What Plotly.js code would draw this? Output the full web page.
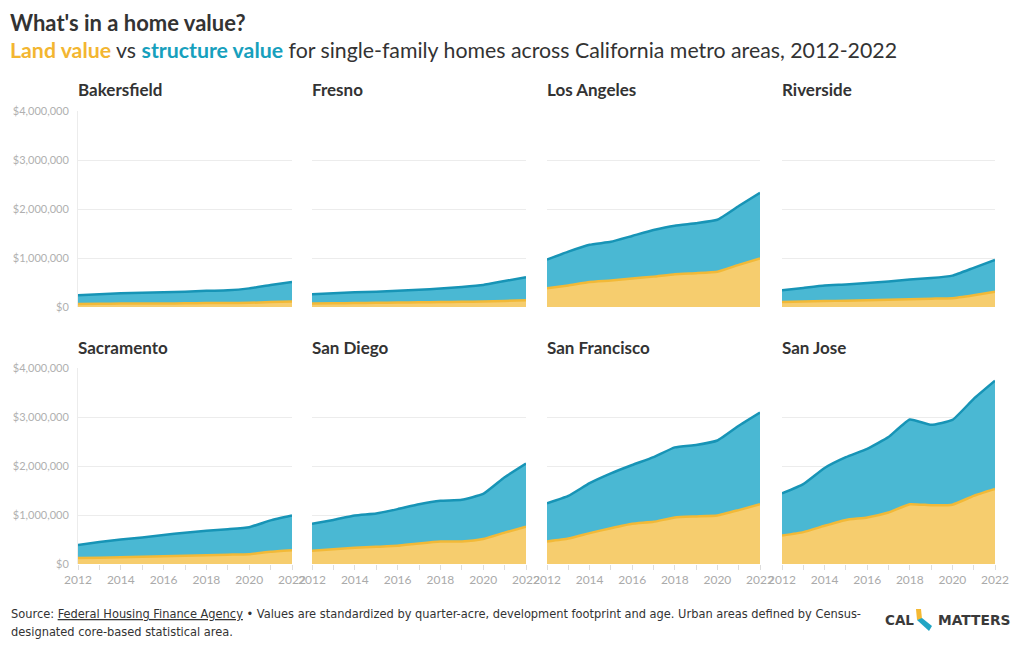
<!DOCTYPE html>
<html>
<head>
<meta charset="utf-8">
<script src="https://cdn.plot.ly/plotly-3.0.1.min.js"></script>
<style>
  html, body { margin: 0; padding: 0; background: #fff; }
  #chart { width: 1020px; height: 650px; }
</style>
</head>
<body>
<div id="chart"></div>
<script>
// ---------- DATA ----------
const years = [2012, 2013, 2014, 2015, 2016, 2017, 2018, 2019, 2020, 2021, 2022];
const metros = ["Bakersfield", "Fresno", "Los Angeles", "Riverside", "Sacramento", "San Diego", "San Francisco", "San Jose"];

// land value (USD millions) and total home value = land + structure (USD millions)
const bakersfieldLand  = [0.06, 0.065, 0.07, 0.07, 0.07, 0.075, 0.08, 0.08, 0.085, 0.10, 0.11];
const bakersfieldTotal = [0.24, 0.26, 0.28, 0.29, 0.30, 0.31, 0.33, 0.34, 0.38, 0.45, 0.51];
const fresnoLand       = [0.07, 0.075, 0.08, 0.085, 0.09, 0.095, 0.10, 0.105, 0.11, 0.125, 0.14];
const fresnoTotal      = [0.26, 0.28, 0.30, 0.31, 0.33, 0.35, 0.38, 0.41, 0.45, 0.53, 0.61];
const losAngelesLand   = [0.38, 0.44, 0.51, 0.54, 0.58, 0.62, 0.67, 0.69, 0.72, 0.86, 0.99];
const losAngelesTotal  = [0.97, 1.13, 1.27, 1.33, 1.45, 1.57, 1.66, 1.71, 1.78, 2.06, 2.33];
const riversideLand    = [0.10, 0.11, 0.12, 0.13, 0.14, 0.15, 0.16, 0.17, 0.18, 0.24, 0.31];
const riversideTotal   = [0.34, 0.39, 0.44, 0.46, 0.49, 0.52, 0.56, 0.59, 0.64, 0.80, 0.96];
const sacramentoLand   = [0.12, 0.13, 0.14, 0.15, 0.16, 0.17, 0.18, 0.19, 0.20, 0.25, 0.28];
const sacramentoTotal  = [0.39, 0.45, 0.50, 0.54, 0.59, 0.64, 0.68, 0.71, 0.75, 0.89, 0.99];
const sanDiegoLand     = [0.27, 0.30, 0.33, 0.35, 0.37, 0.42, 0.46, 0.46, 0.51, 0.64, 0.76];
const sanDiegoTotal    = [0.82, 0.90, 0.99, 1.03, 1.12, 1.22, 1.29, 1.31, 1.43, 1.77, 2.05];
const sanFranciscoLand = [0.46, 0.52, 0.63, 0.73, 0.82, 0.86, 0.95, 0.97, 0.99, 1.10, 1.22];
const sanFranciscoTotal= [1.24, 1.39, 1.65, 1.85, 2.02, 2.18, 2.38, 2.43, 2.52, 2.82, 3.09];
const sanJoseLand      = [0.58, 0.65, 0.78, 0.90, 0.95, 1.05, 1.22, 1.20, 1.21, 1.39, 1.53];
const sanJoseTotal     = [1.44, 1.63, 1.96, 2.18, 2.35, 2.59, 2.95, 2.84, 2.94, 3.37, 3.74];

const yTickVals = [0, 1000000, 2000000, 3000000, 4000000];
const yTickText = ["$0", "$1,000,000", "$2,000,000", "$3,000,000", "$4,000,000"];
const xTickVals = years;
const xTickText = ["2012", "", "2014", "", "2016", "", "2018", "", "2020", "", "2022"];

const landSeries  = [bakersfieldLand, fresnoLand, losAngelesLand, riversideLand, sacramentoLand, sanDiegoLand, sanFranciscoLand, sanJoseLand];
const totalSeries = [bakersfieldTotal, fresnoTotal, losAngelesTotal, riversideTotal, sacramentoTotal, sanDiegoTotal, sanFranciscoTotal, sanJoseTotal];

// ---------- STYLE ----------
const W = 1020, H = 650;
const colPx = [[78, 292], [312, 526], [547, 760], [782, 995]];
const rowPx = [[111, 307], [368, 564]];
const px = (x) => x / W;
const py = (y) => 1 - y / H;

const YEL_FILL = "#f6cd6e", YEL_LINE = "#f2b937";
const BLU_FILL = "#4ab8d3", BLU_LINE = "#1794b6";
const BASE_FONT = "Lato, 'Open Sans', sans-serif";

const toUSD = (arr) => arr.map(v => v * 1000000);

const data = [];
const layout = {
  width: W, height: H,
  margin: {l: 0, r: 0, t: 0, b: 0},
  paper_bgcolor: "#fff", plot_bgcolor: "rgba(0,0,0,0)",
  showlegend: false,
  font: {family: BASE_FONT, color: "#333"},
  annotations: [],
  shapes: []
};

metros.forEach((name, i) => {
  const col = i % 4, row = Math.floor(i / 4);
  const n = i + 1;
  const xa = "x" + (n === 1 ? "" : n), ya = "y" + (n === 1 ? "" : n);
  const xk = "xaxis" + (n === 1 ? "" : n), yk = "yaxis" + (n === 1 ? "" : n);

  data.push({
    type: "scatter", mode: "lines", x: years, y: toUSD(landSeries[i]),
    xaxis: xa, yaxis: ya, fill: "tozeroy", fillcolor: YEL_FILL,
    line: {color: YEL_LINE, width: 2.5, shape: "spline", smoothing: 0.4},
    hoverinfo: "skip", cliponaxis: true
  });
  data.push({
    type: "scatter", mode: "lines", x: years, y: toUSD(totalSeries[i]),
    xaxis: xa, yaxis: ya, fill: "tonexty", fillcolor: BLU_FILL,
    line: {color: BLU_LINE, width: 2.5, shape: "spline", smoothing: 0.4},
    hoverinfo: "skip", cliponaxis: true
  });

  layout[xk] = {
    domain: [px(colPx[col][0]), px(colPx[col][1])],
    anchor: ya, range: [2012, 2022], fixedrange: true,
    showgrid: false, zeroline: false, showline: false,
    tickvals: xTickVals, ticktext: xTickText,
    ticks: row === 1 ? "outside" : "", ticklen: 5, tickcolor: "#dddddd", tickwidth: 1,
    showticklabels: row === 1,
    tickfont: {family: BASE_FONT, size: 12, color: "#aaaaaa"}
  };
  layout[yk] = {
    domain: [py(rowPx[row][1]), py(rowPx[row][0])],
    anchor: xa, range: [0, 4000000], fixedrange: true,
    tickvals: yTickVals, ticktext: yTickText,
    showgrid: true, gridcolor: "#ececec", gridwidth: 1,
    zeroline: false,
    showline: col === 0, linecolor: "#ececec", linewidth: 1,
    showticklabels: col === 0, ticks: "",
    ticklabelstandoff: 6,
    tickfont: {family: BASE_FONT, size: 11, color: "#b0b0b0"}
  };

  layout.annotations.push({
    xref: "paper", yref: "paper", x: px(colPx[col][0] - 2), y: py(row === 0 ? 90 : 347),
    xanchor: "left", yanchor: "middle", showarrow: false,
    text: "<b>" + name + "</b>",
    font: {family: BASE_FONT, size: 17, color: "#333"}
  });
});

// Titles
layout.annotations.push({
  xref: "paper", yref: "paper", x: px(8), y: py(22), xanchor: "left", yanchor: "middle",
  showarrow: false, text: "<b>What's in a home value?</b>",
  font: {family: BASE_FONT, size: 22, color: "#333"}
});
layout.annotations.push({
  xref: "paper", yref: "paper", x: px(8), y: py(50), xanchor: "left", yanchor: "middle",
  showarrow: false,
  text: "<b><span style='color:#f3b631'>Land value</span></b> vs <b><span style='color:#17a0bd'>structure value</span></b> for single-family homes across California metro areas, 2012-2022",
  font: {family: BASE_FONT, size: 21.3, color: "#333"}
});

// Footer
const FOOT_FONT = "'Liberation Sans Narrow', 'DejaVu Sans Condensed', 'Roboto', sans-serif";
layout.annotations.push({
  xref: "paper", yref: "paper", x: px(9), y: py(613), xanchor: "left", yanchor: "middle",
  showarrow: false,
  text: "Source: <u>Federal Housing Finance Agency</u> • Values are standardized by quarter-acre, development footprint and age. Urban areas defined by Census-",
  font: {family: FOOT_FONT, size: 12.7, color: "#333"}
});
layout.annotations.push({
  xref: "paper", yref: "paper", x: px(9), y: py(631), xanchor: "left", yanchor: "middle",
  showarrow: false,
  text: "designated core-based statistical area.",
  font: {family: FOOT_FONT, size: 12.7, color: "#333"}
});

// Logo
layout.annotations.push({
  xref: "paper", yref: "paper", x: px(883), y: py(620), xanchor: "left", yanchor: "middle",
  showarrow: false, text: "<b>CAL</b>",
  font: {family: "'DejaVu Sans', sans-serif", size: 13.5, color: "#3a3a3a"}
});
layout.annotations.push({
  xref: "paper", yref: "paper", x: px(1012), y: py(620), xanchor: "right", yanchor: "middle",
  showarrow: false, text: "<b>MATTERS</b>",
  font: {family: "'DejaVu Sans', sans-serif", size: 13.8, color: "#3a3a3a"}
});
const pathOf = (pts) => "M" + pts.map(p => px(p[0]) + "," + py(p[1])).join(" L") + " Z";
layout.shapes.push({
  type: "path", xref: "paper", yref: "paper",
  path: pathOf([[916, 609], [921, 609], [922, 619], [917, 620]]),
  fillcolor: "#f5b932", line: {width: 0}
});
layout.shapes.push({
  type: "path", xref: "paper", yref: "paper",
  path: pathOf([[917, 620], [922, 618], [932, 626], [929, 631]]),
  fillcolor: "#21a5c4", line: {width: 0}
});

Plotly.newPlot("chart", data, layout, {staticPlot: true, displayModeBar: false});
</script>
</body>
</html>
